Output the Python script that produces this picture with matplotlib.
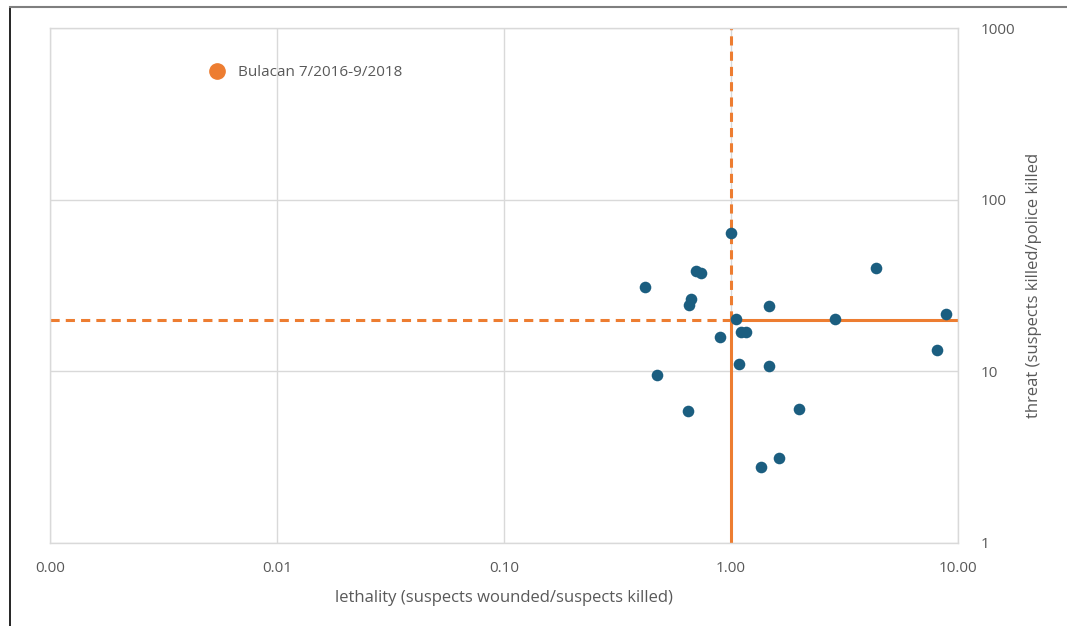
import matplotlib.pyplot as plt
from matplotlib.lines import Line2D
from matplotlib.ticker import FixedLocator, FixedFormatter

# lethality (suspects wounded / suspects killed), threat (suspects killed / police killed)
lethality = [0.42, 1.00, 0.70, 0.74, 0.667, 0.653, 1.47, 1.05, 1.11, 1.17, 0.895,
             1.08, 1.47, 0.472, 0.648, 1.99, 1.63, 1.36, 2.87, 4.35, 8.85, 8.1]
threat = [31.0, 64.0, 38.4, 37.5, 26.4, 24.3, 24.0, 20.2, 16.9, 16.9, 15.8,
          11.0, 10.8, 9.5, 5.9, 6.0, 3.13, 2.78, 20.2, 40.0, 21.6, 13.3]

median_lethality = 1.0
median_threat = 20.0

x_ticks = [0.001, 0.01, 0.1, 1, 10]
x_labels = ["0.00", "0.01", "0.10", "1.00", "10.00"]
y_ticks = [1, 10, 100, 1000]
y_labels = ["1", "10", "100", "1000"]

series_label = "Bulacan 7/2016-9/2018"

ORANGE = "#ED7D31"
BLUE = "#1B5E80"
GRID = "#D9D9D9"
TEXT = "#595959"

plt.rcParams["font.family"] = ["Open Sans", "DejaVu Sans"]

fig = plt.figure(figsize=(10.67, 6.26), dpi=100)
ax = fig.add_axes([50 / 1067, 1 - 543 / 626, 908 / 1067, 515 / 626])

ax.set_xscale("log")
ax.set_yscale("log")
ax.set_xlim(x_ticks[0], x_ticks[-1])
ax.set_ylim(y_ticks[0], y_ticks[-1])

ax.xaxis.set_major_locator(FixedLocator(x_ticks))
ax.xaxis.set_major_formatter(FixedFormatter(x_labels))
ax.xaxis.set_minor_locator(FixedLocator([]))
ax.yaxis.set_major_locator(FixedLocator(y_ticks))
ax.yaxis.set_major_formatter(FixedFormatter(y_labels))
ax.yaxis.set_minor_locator(FixedLocator([]))

ax.grid(True, color=GRID, linewidth=1)
ax.set_axisbelow(True)
for s in ax.spines.values():
    s.set_color(GRID)
    s.set_linewidth(1)

ax.yaxis.tick_right()
ax.yaxis.set_label_position("right")
ax.tick_params(axis="both", length=0, labelsize=11, colors=TEXT)
ax.tick_params(axis="x", pad=13)
ax.tick_params(axis="y", pad=16)
for lbl in ax.get_yticklabels():
    lbl.set_horizontalalignment("left")

ax.set_xlabel("lethality (suspects wounded/suspects killed)", fontsize=12, color=TEXT, labelpad=10)
ax.set_ylabel("threat (suspects killed/police killed", fontsize=12, color=TEXT, labelpad=8)

# median reference lines: dashed on the low / high side, solid elsewhere
ax.plot([x_ticks[0], median_lethality], [median_threat, median_threat],
        color=ORANGE, linewidth=2.2, linestyle=(0, (3, 2)), zorder=2)
ax.plot([median_lethality, x_ticks[-1]], [median_threat, median_threat],
        color=ORANGE, linewidth=2.2, zorder=2)
ax.plot([median_lethality, median_lethality], [median_threat, y_ticks[-1]],
        color=ORANGE, linewidth=2.2, linestyle=(0, (3, 2)), zorder=2)
ax.plot([median_lethality, median_lethality], [y_ticks[0], median_threat],
        color=ORANGE, linewidth=2.2, zorder=2)

ax.scatter(lethality, threat, s=70, color=BLUE, zorder=3, linewidths=0)

handle = Line2D([], [], marker="o", linestyle="none", markersize=11,
                markerfacecolor=ORANGE, markeredgecolor=ORANGE)
leg = ax.legend([handle], [series_label], loc="center left",
                bbox_to_anchor=(0.16, 0.913), frameon=False, fontsize=11,
                handletextpad=0.4, borderaxespad=0)
for t in leg.get_texts():
    t.set_color(TEXT)

# outer frame (left and top edges of the screenshot)
fig.add_artist(Line2D([10 / 1067, 10 / 1067], [0, 1 - 7 / 626],
                      transform=fig.transFigure, color="black", linewidth=1.2))
fig.add_artist(Line2D([10 / 1067, 1], [1 - 7 / 626, 1 - 7 / 626],
                      transform=fig.transFigure, color="#7F7F7F", linewidth=1.5))

fig.savefig("out.png", dpi=100)
